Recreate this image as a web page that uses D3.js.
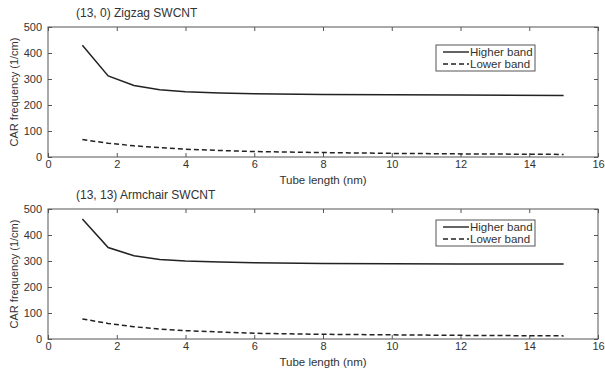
<!DOCTYPE html>
<html>
<head>
<meta charset="utf-8">
<script src="https://cdn.jsdelivr.net/npm/d3@7"></script>
<style>
  body { margin: 0; background: #fff; }
  svg { display: block; font-family: "Liberation Sans", Arial, sans-serif; }
</style>
</head>
<body>
<svg width="605" height="371"></svg>
<script>
// tube lengths (nm)
const lengths = [1, 1.75, 2.5, 3.25, 4, 5, 6, 8, 10, 12, 15];

// (13, 0) zigzag
const zigzagHigher = [430, 312, 275, 259, 251, 246, 243, 240, 239, 238, 237];
const zigzagLower  = [67, 53, 43, 36, 30, 25, 21, 17, 14, 12, 10];

// (13, 13) armchair
const armchairHigher = [462, 352, 320, 306, 300, 296, 293, 290, 289, 288, 288];
const armchairLower  = [77, 60, 47, 38, 32, 27, 22, 18, 16, 14, 12];

const xTicks = [0, 2, 4, 6, 8, 10, 12, 14, 16];
const yTicks = [0, 100, 200, 300, 400, 500];
const seriesNames = ["Higher band", "Lower band"];

const panels = [
  {title: "(13, 0) Zigzag SWCNT", top: 27, higher: zigzagHigher, lower: zigzagLower, legendY: 45},
  {title: "(13, 13) Armchair SWCNT", top: 209, higher: armchairHigher, lower: armchairLower, legendY: 220}
];

let svg = d3.select("svg"),
    left = 48, width = 550, height = 130,
    ink = "#222", tickLen = 4;

let x = d3.scaleLinear().domain([0, 16]).range([0, width]);
let y = d3.scaleLinear().domain([0, 500]).range([height, 0]);

let line = d3.line()
    .x(d => x(d[0]))
    .y(d => y(d[1]));

panels.forEach(function (p) {
    let g = svg.append("g").attr("transform", "translate(" + left + "," + p.top + ")");

    // box
    g.append("rect")
        .attr("width", width).attr("height", height)
        .attr("fill", "none").attr("stroke", "#555").attr("stroke-width", 1);

    // axes with inward ticks
    let styleAxis = function (sel) {
        sel.select(".domain").remove();
        sel.selectAll("line").attr("stroke", "#555");
        sel.selectAll("text").attr("fill", "#333").attr("font-size", 11);
    };

    g.append("g")
        .attr("transform", "translate(0," + height + ")")
        .call(d3.axisBottom(x).tickValues(xTicks).tickSizeInner(-tickLen).tickSizeOuter(0).tickPadding(3))
        .call(styleAxis);
    g.append("g")
        .call(d3.axisTop(x).tickValues(xTicks).tickSizeInner(-tickLen).tickSizeOuter(0).tickFormat(""))
        .call(styleAxis);
    g.append("g")
        .call(d3.axisLeft(y).tickValues(yTicks).tickSizeInner(-tickLen).tickSizeOuter(0).tickPadding(6))
        .call(styleAxis);
    g.append("g")
        .attr("transform", "translate(" + width + ",0)")
        .call(d3.axisRight(y).tickValues(yTicks).tickSizeInner(-tickLen).tickSizeOuter(0).tickFormat(""))
        .call(styleAxis);

    // curves
    g.append("path")
        .datum(lengths.map((l, i) => [l, p.higher[i]]))
        .attr("d", line)
        .attr("fill", "none").attr("stroke", ink).attr("stroke-width", 1.5);
    g.append("path")
        .datum(lengths.map((l, i) => [l, p.lower[i]]))
        .attr("d", line)
        .attr("fill", "none").attr("stroke", ink).attr("stroke-width", 1.5)
        .attr("stroke-dasharray", "5,3");

    // labels
    g.append("text")
        .attr("x", 28).attr("y", -10)
        .attr("font-size", 12).attr("fill", "#333")
        .text(p.title);
    g.append("text")
        .attr("x", width / 2).attr("y", height + 27)
        .attr("text-anchor", "middle")
        .attr("font-size", 11.5).attr("fill", "#333")
        .text("Tube length (nm)");
    g.append("text")
        .attr("transform", "translate(-30," + height / 2 + ") rotate(-90)")
        .attr("text-anchor", "middle")
        .attr("font-size", 11).attr("fill", "#333")
        .text("CAR frequency (1/cm)");

    // legend
    let lg = svg.append("g").attr("transform", "translate(436," + p.legendY + ")");
    lg.append("rect")
        .attr("width", 99).attr("height", 26)
        .attr("fill", "#fff").attr("stroke", "#555").attr("stroke-width", 1);
    seriesNames.forEach(function (name, i) {
        let row = lg.append("g").attr("transform", "translate(0," + (7 + i * 12) + ")");
        row.append("line")
            .attr("x1", 7).attr("x2", 33)
            .attr("stroke", ink).attr("stroke-width", 1.4)
            .attr("stroke-dasharray", i === 1 ? "5,3" : null);
        row.append("text")
            .attr("x", 34).attr("dy", "0.35em")
            .attr("font-size", 11.5).attr("fill", "#333")
            .text(name);
    });
});
</script>
</body>
</html>
